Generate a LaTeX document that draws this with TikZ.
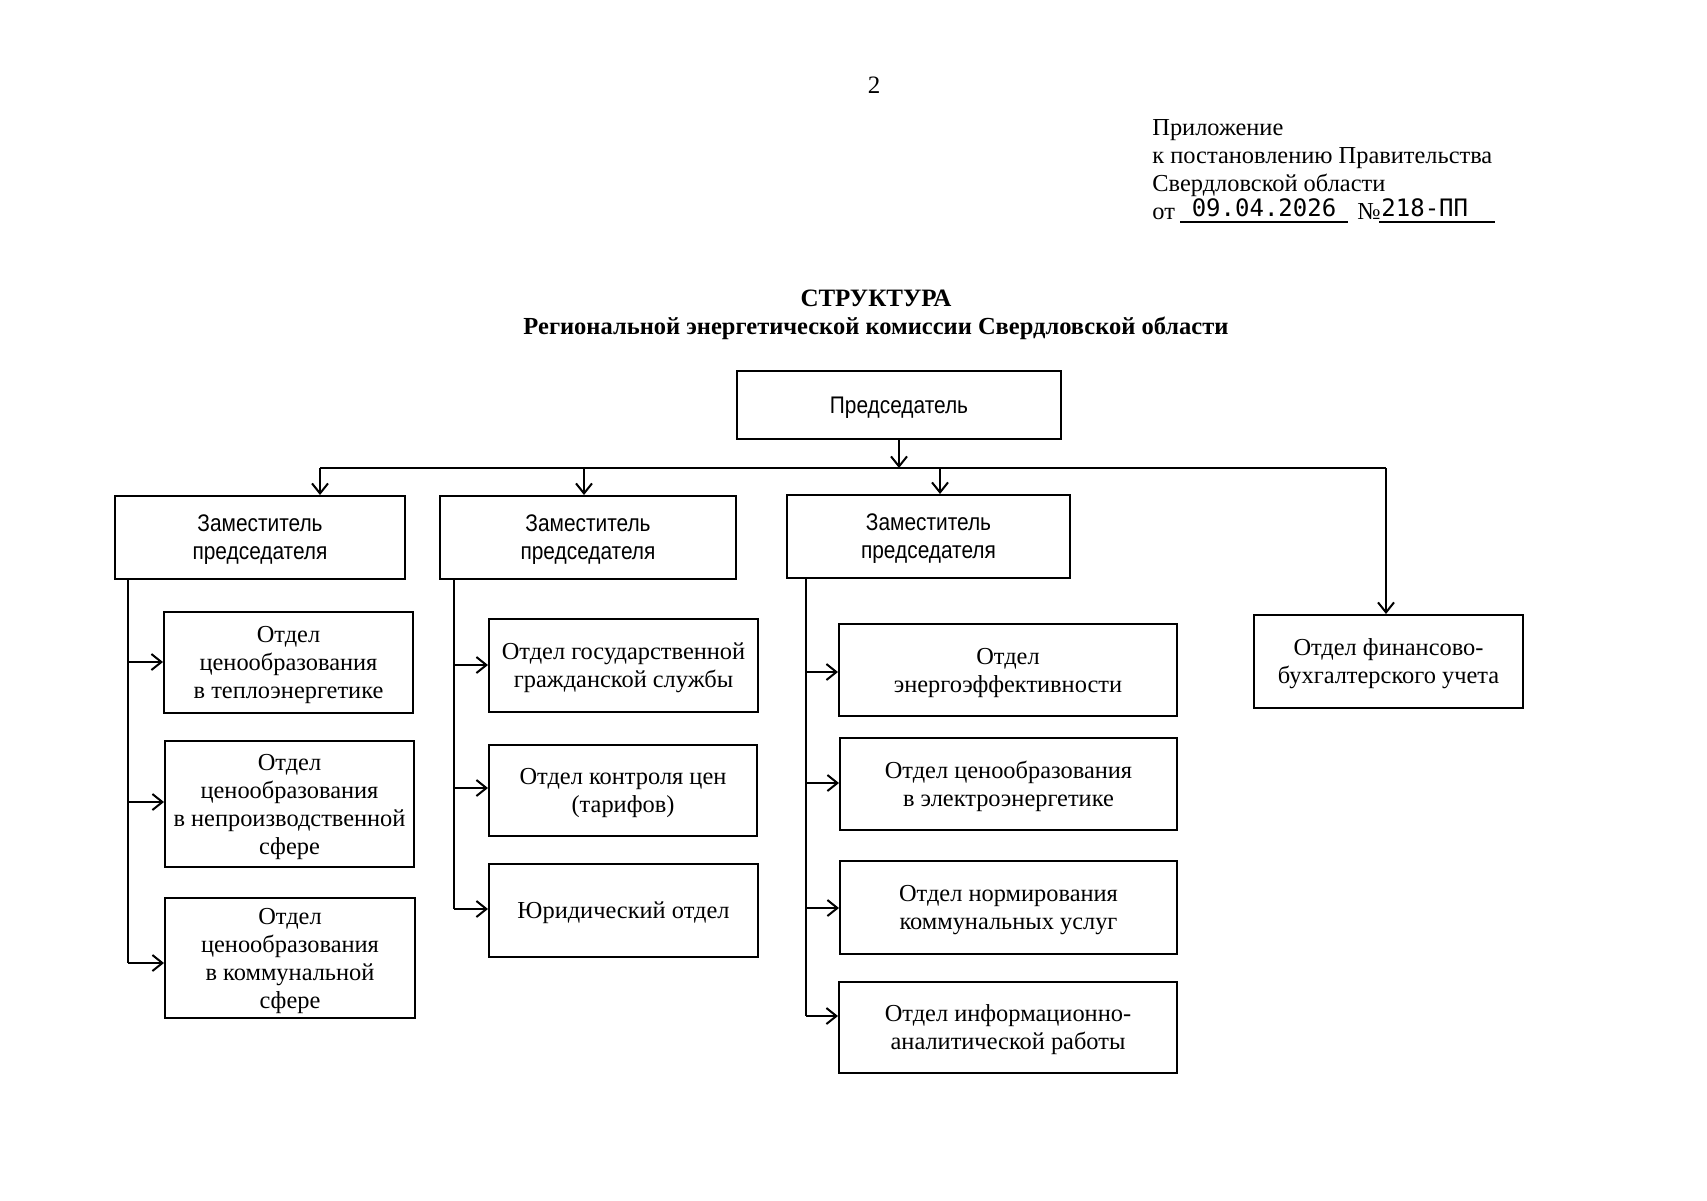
\documentclass[tikz,border=0pt]{standalone}
\usepackage{fontspec}
\setmainfont{Liberation Serif}
\newfontfamily\zamfont[FakeStretch=0.87]{Liberation Sans}
\newfontfamily\datefont{DejaVu Sans Mono}
\usetikzlibrary{arrows.meta}
\begin{document}
\begin{tikzpicture}[x=0.5pt,y=-0.5pt,
  box/.style={draw, line width=1pt, align=center, inner sep=2pt, text depth=0pt, font=\fontsize{12.2}{14}\selectfont},
  zam/.style={box, font=\zamfont\fontsize{12}{14}\selectfont},
  conn/.style={line width=1pt},
  arr/.style={line width=1pt, -{Straight Barb[length=5pt,width=8pt,line width=1pt]}},
  hdr/.style={anchor=base west, inner sep=0pt, font=\fontsize{12.2}{15}\selectfont},
  dt/.style={anchor=base, inner sep=0pt, font=\datefont\fontsize{12}{14}\selectfont},
  ttl/.style={inner sep=0pt, font=\bfseries\fontsize{12.5}{15}\selectfont}]
\fill[white] (0,0) rectangle (1707,1200);
\useasboundingbox (0,0) rectangle (1707,1200);

% page number and header
\node[inner sep=0pt, font=\fontsize{12.5}{15}\selectfont] (pg) at (874,85) {2};
\node[hdr] (h1) at (1152,135) {Приложение};
\node[hdr] (h2) at (1152,163) {к постановлению Правительства};
\node[hdr] (h3) at (1152,191) {Свердловской области};
\node[hdr] (h4) at (1152,219) {от};
\node[dt] (date) at (1264,216) {09.04.2026};
\node[hdr] (no) at (1357,219) {№};
\node[dt, anchor=base west] (num) at (1381,216) {218-ПП};
\coordinate (u1a) at (1180,222); \coordinate (u1b) at (1348,222);
\coordinate (u2a) at (1379,222); \coordinate (u2b) at (1495,222);
\draw[line width=0.7pt] (u1a) -- (u1b);
\draw[line width=0.7pt] (u2a) -- (u2b);

% title
\node[ttl] (t1) at (876,298) {СТРУКТУРА};
\node[ttl, font=\bfseries\fontsize{12.25}{15}\selectfont] (t2) at (876,328) {Региональной энергетической комиссии Свердловской области};

% chairman and deputies
\node[zam, minimum width=162pt, minimum height=34pt] (P) at (899,405) {Председатель};
\node[zam, minimum width=145pt, minimum height=41.5pt] (Z1) at (260,537.5) {Заместитель\\председателя};
\node[zam, minimum width=148pt, minimum height=41.5pt] (Z2) at (588,537.5) {Заместитель\\председателя};
\node[zam, minimum width=141.5pt, minimum height=41.5pt] (Z3) at (928.5,536.5) {Заместитель\\председателя};
\node[box, minimum width=134.5pt, minimum height=46.5pt] (F) at (1388.5,661.5) {Отдел финансово-\\бухгалтерского учета};

% column 1
\node[box, minimum width=124.5pt, minimum height=50.5pt] (b1) at (288.5,662.5) {Отдел\\ценообразования\\в теплоэнергетике};
\node[box, minimum width=124.5pt, minimum height=63pt] (b2) at (289.5,804) {Отдел\\ценообразования\\в непроизводственной\\сфере};
\node[box, minimum width=125pt, minimum height=60pt] (b3) at (290,958) {Отдел\\ценообразования\\в коммунальной\\сфере};

% column 2
\node[box, minimum width=134.5pt, minimum height=46.5pt] (c1) at (623.5,665.5) {Отдел государственной\\гражданской службы};
\node[box, minimum width=134pt, minimum height=45.5pt] (c2) at (623,790.5) {Отдел контроля цен\\(тарифов)};
\node[box, minimum width=134.5pt, minimum height=46.5pt] (c3) at (623.5,910.5) {Юридический отдел};

% column 3
\node[box, minimum width=169pt, minimum height=46pt] (d1) at (1008,670) {Отдел\\энергоэффективности};
\node[box, minimum width=168.5pt, minimum height=46pt] (d2) at (1008.5,784) {Отдел ценообразования\\в электроэнергетике};
\node[box, minimum width=168.5pt, minimum height=46.5pt] (d3) at (1008.5,907.5) {Отдел нормирования\\коммунальных услуг};
\node[box, minimum width=169pt, minimum height=45.5pt] (d4) at (1008,1027.5) {Отдел информационно-\\аналитической работы};

% bus
\coordinate (busL) at (320,468);
\coordinate (busR) at (1386,468);
\coordinate (bz2) at (584,468);
\coordinate (bz3) at (940,468);
\draw[conn] (busL) -- (busR);
\draw[arr] (P.south) -- (P.south |- busL);
\draw[arr] (busL) -- (busL |- Z1.north);
\draw[arr] (bz2) -- (bz2 |- Z2.north);
\draw[arr] (bz3) -- (bz3 |- Z3.north);
\draw[arr] (busR) -- (busR |- F.north);

% spine 1
\coordinate (s1) at (128,963);
\draw[conn] (Z1.south -| s1) -- (s1);
\coordinate (a11) at (128,662);
\coordinate (a12) at (128,802);
\draw[arr] (a11) -- (a11 -| b1.west);
\draw[arr] (a12) -- (a12 -| b2.west);
\draw[arr] (s1) -- (s1 -| b3.west);

% spine 2
\coordinate (s2) at (454,909);
\draw[conn] (Z2.south -| s2) -- (s2);
\coordinate (a21) at (454,665);
\coordinate (a22) at (454,788);
\draw[arr] (a21) -- (a21 -| c1.west);
\draw[arr] (a22) -- (a22 -| c2.west);
\draw[arr] (s2) -- (s2 -| c3.west);

% spine 3
\coordinate (s3) at (806,1016);
\draw[conn] (Z3.south -| s3) -- (s3);
\coordinate (a31) at (806,672);
\coordinate (a32) at (806,783);
\coordinate (a33) at (806,908);
\draw[arr] (a31) -- (a31 -| d1.west);
\draw[arr] (a32) -- (a32 -| d2.west);
\draw[arr] (a33) -- (a33 -| d3.west);
\draw[arr] (s3) -- (s3 -| d4.west);
\end{tikzpicture}
\end{document}
